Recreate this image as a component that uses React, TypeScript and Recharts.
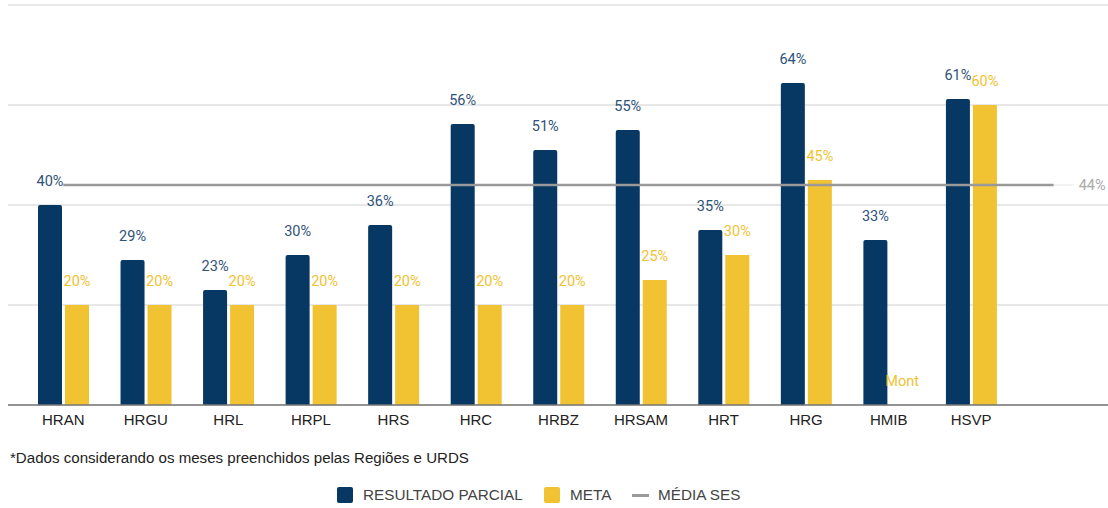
import React from 'react';
import { ComposedChart, Bar, Line, XAxis, YAxis, CartesianGrid } from 'recharts';

const categories = ['HRAN', 'HRGU', 'HRL', 'HRPL', 'HRS', 'HRC', 'HRBZ', 'HRSAM', 'HRT', 'HRG', 'HMIB', 'HSVP', ''];
const resultado: (number | null)[] = [40, 29, 23, 30, 36, 56.2, 51, 55, 35, 64.4, 33, 61.2, null];
const meta: (number | null)[] = [20, 20, 20, 20, 20, 20, 20, 25, 30, 45, null, 60, null];
const metaNote: (number | null)[] = [null, null, null, null, null, null, null, null, null, null, 0, null, null];
const metaNoteText = 'Mont';
const mediaSes: number[] = [44, 44, 44, 44, 44, 44, 44, 44, 44, 44, 44, 44, 44];
const yTicks = [0, 20, 40, 60, 80];

const data = categories.map((name, i) => ({
  name,
  resultado: resultado[i],
  meta: meta[i],
  note: metaNote[i],
  media: mediaSes[i],
}));

const DARK = '#073763';
const YELLOW = '#f1c232';
const GRAY = '#999999';
const LABEL_FONT = 14.5;

const resLabel = (props: any) => {
  const { x, y, width, value } = props;
  if (value === null || value === undefined) return null;
  return (
    <text x={x + width / 2} y={y - 24} dy="0.35em" textAnchor="middle" fill="#2f5279" fontSize={LABEL_FONT} fontFamily="Roboto">
      {Math.round(value)}%
    </text>
  );
};

const metaLabel = (props: any) => {
  const { x, y, width, value } = props;
  if (value === null || value === undefined) return null;
  return (
    <text x={x + width / 2} y={y - 24} dy="0.35em" textAnchor="middle" fill={YELLOW} fontSize={LABEL_FONT} fontFamily="Roboto">
      {Math.round(value)}%
    </text>
  );
};

const noteLabel = (props: any) => {
  const { x, y, value } = props;
  if (value === null || value === undefined) return null;
  return (
    <text x={x + 13.5} y={y - 24} dy="0.35em" textAnchor="middle" fill={YELLOW} fontSize={LABEL_FONT} fontFamily="Roboto">
      {metaNoteText}
    </text>
  );
};

const mediaLabel = (props: any) => {
  const { x, y, index, value } = props;
  if (index !== mediaSes.length - 1) return null;
  return (
    <g>
      <line x1={x} y1={y} x2={x + 20} y2={y} stroke="#e6e6e6" strokeWidth={1} />
      <text x={x + 25} y={y} dy="0.35em" textAnchor="start" fill="#aaaaaa" fontSize={LABEL_FONT} fontFamily="Roboto">
        {value}%
      </text>
    </g>
  );
};

const legendItems = [
  { label: 'RESULTADO PARCIAL', color: DARK, type: 'square', left: 337 },
  { label: 'META', color: YELLOW, type: 'square', left: 544 },
  { label: 'MÉDIA SES', color: GRAY, type: 'line', left: 632 },
];

export default function App() {
  return (
    <div style={{ position: 'absolute', left: 0, top: 0, width: 1108, height: 508, background: '#fff', overflow: 'hidden' }}>
      <ComposedChart
        width={1108}
        height={440}
        data={data}
        margin={{ top: 5, right: 0, left: 8, bottom: 0 }}
        barSize={24}
        barGap={3}
      >
        <CartesianGrid vertical={false} stroke="#d0d0d0" />
        <XAxis
          dataKey="name"
          height={35}
          padding={{ left: 14, right: 13 }}
          tickLine={false}
          tickMargin={3.5}
          axisLine={{ stroke: '#777777', strokeWidth: 1.5 }}
          tick={{ fill: '#222222', fontSize: 15, fontFamily: '"Liberation Sans", Arial, sans-serif' }}
          interval={0}
        />
        <YAxis hide domain={[0, 80]} ticks={yTicks} />
        <Bar dataKey="resultado" fill={DARK} radius={[2, 2, 0, 0]} isAnimationActive={false} label={resLabel} />
        <Bar dataKey="meta" fill={YELLOW} isAnimationActive={false} label={metaLabel} />
        <Line
          dataKey="media"
          type="linear"
          stroke={GRAY}
          strokeWidth={2.3}
          dot={false}
          activeDot={false}
          isAnimationActive={false}
          label={mediaLabel}
        />
        <Line
          dataKey="note"
          stroke="none"
          dot={false}
          activeDot={false}
          isAnimationActive={false}
          label={noteLabel}
        />
      </ComposedChart>
      <div
        style={{
          position: 'absolute',
          left: 10,
          top: 449,
          fontFamily: '"Liberation Sans", Arial, sans-serif',
          fontSize: 15.1,
          color: '#222',
          whiteSpace: 'nowrap',
        }}
      >
        *Dados considerando os meses preenchidos pelas Regiões e URDS
      </div>
      {legendItems.map((it) => (
        <div
          key={it.label}
          style={{
            position: 'absolute',
            left: it.left,
            top: 487,
            height: 16,
            display: 'flex',
            alignItems: 'center',
            fontFamily: '"Liberation Sans", Arial, sans-serif',
            fontSize: 15.3,
            color: '#444',
            whiteSpace: 'nowrap',
          }}
        >
          {it.type === 'square' ? (
            <div style={{ width: 16, height: 16, background: it.color, borderRadius: 2, marginRight: 10 }} />
          ) : (
            <div style={{ width: 17, height: 3, background: it.color, marginRight: 9 }} />
          )}
          <span>{it.label}</span>
        </div>
      ))}
    </div>
  );
}
